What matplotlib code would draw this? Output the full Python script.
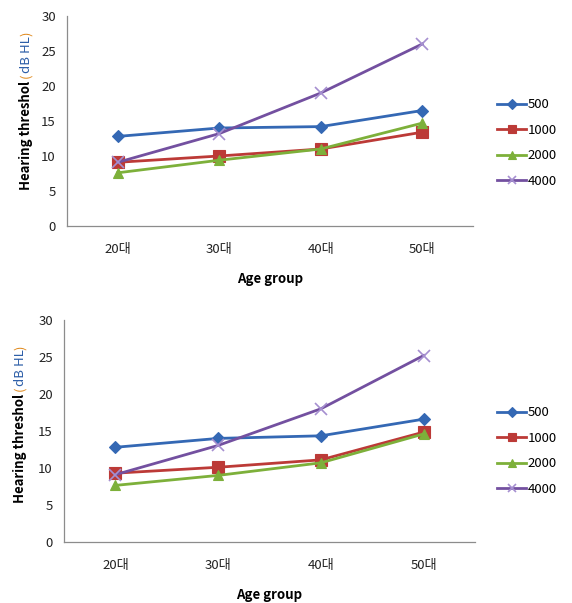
import matplotlib
matplotlib.use("Agg")
import matplotlib.pyplot as plt

plt.rcParams['font.family'] = ['Noto Sans CJK KR', 'DejaVu Sans']

categories = ['20대', '30대', '40대', '50대']
series_names = ['500', '1000', '2000', '4000']

top_500 = [12.8, 14.0, 14.2, 16.5]
top_1000 = [9.1, 10.0, 11.0, 13.4]
top_2000 = [7.6, 9.4, 11.0, 14.7]
top_4000 = [9.1, 13.2, 19.0, 26.0]

bot_500 = [12.8, 14.0, 14.35, 16.6]
bot_1000 = [9.3, 10.1, 11.1, 14.85]
bot_2000 = [7.65, 9.0, 10.7, 14.6]
bot_4000 = [9.1, 13.05, 18.0, 25.2]

yticks = [0, 5, 10, 15, 20, 25, 30]

colors = ['#3468B4', '#BC3A37', '#7DB03A', '#7350A0']
markers = ['D', 's', '^', 'x']
msizes = [6, 8, 7, 8]

fig = plt.figure(figsize=(5.72, 6.03), dpi=100)
W, H = 572, 603

def px_axes(l, t, r, b):
    return fig.add_axes([l / W, 1 - b / H, (r - l) / W, (b - t) / H])

def draw(ax, data, legend_top):
    x = list(range(len(categories)))
    handles = []
    for vals, c, m, ms, name in zip(data, colors, markers, msizes, series_names):
        mec = c if m != 'x' else '#A58FD0'
        ln, = ax.plot(x, vals, color=c, lw=2.0, marker=m, ms=ms,
                      mfc=c, mec=mec, mew=1.2 if m == 'x' else 0.8, label=name, zorder=3)
        handles.append(ln)
    ax.set_xlim(-0.5, 3.5)
    ax.set_ylim(0, 30)
    ax.set_yticks(yticks)
    ax.set_xticks(x)
    ax.set_xticklabels(categories)
    for s in ['top', 'right']:
        ax.spines[s].set_visible(False)
    for s in ['left', 'bottom']:
        ax.spines[s].set_color('#8C8C8C')
        ax.spines[s].set_linewidth(0.9)
    ax.tick_params(length=0, labelsize=9.5, colors='#222222', pad=8)
    ax.tick_params(axis='x', pad=12)
    ax.set_xlabel('Age group', fontsize=9.5, fontweight='bold', labelpad=12)
    leg = fig.legend(handles=handles, loc='upper left',
                     bbox_to_anchor=(492 / W, 1 - legend_top / H),
                     frameon=False, fontsize=9.5, handlelength=2.2,
                     handletextpad=0.1, labelspacing=0.95, borderaxespad=0)
    for h in leg.legend_handles:
        h.set_markersize(5.5)
    return ax

ax1 = px_axes(67, 16, 473, 226)
draw(ax1, [top_500, top_1000, top_2000, top_4000], 93)
ax2 = px_axes(64, 320, 475, 542)
draw(ax2, [bot_500, bot_1000, bot_2000, bot_4000], 401)

fig.canvas.draw()
renderer = fig.canvas.get_renderer()

def ylabel(xc, ybottom):
    t1 = fig.text(xc / W, 1 - ybottom / H, 'Hearing threshol ', rotation=90,
                  fontsize=9.5, fontweight='bold', ha='center', va='bottom')
    bb = t1.get_window_extent(renderer)
    t2 = fig.text(xc / W, bb.y1 / H, '(', rotation=90, fontsize=9.5,
                  color='#E08A1E', ha='center', va='bottom')
    bb2 = t2.get_window_extent(renderer)
    t3 = fig.text(xc / W, bb2.y1 / H, 'dB HL', rotation=90, fontsize=9.5,
                  color='#2E5FA8', ha='center', va='bottom')
    bb3 = t3.get_window_extent(renderer)
    fig.text(xc / W, bb3.y1 / H, ')', rotation=90, fontsize=9.5,
             color='#E08A1E', ha='center', va='bottom')

ylabel(26, 190)
ylabel(20, 503)

fig.savefig('out.png', dpi=100)
